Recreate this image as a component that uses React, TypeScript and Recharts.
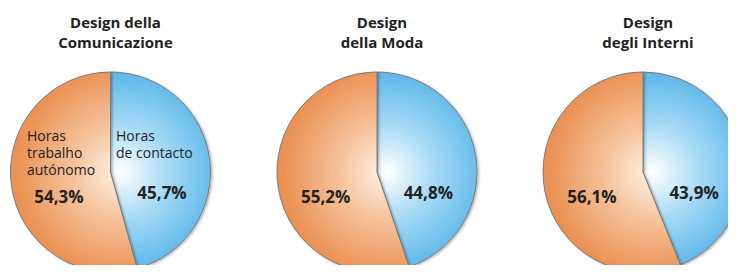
import { Cell, Pie, PieChart } from "recharts";

const courseTitles = [
  ["Design della", "Comunicazione"],
  ["Design", "della Moda"],
  ["Design", "degli Interni"],
];
const contactHours = [45.7, 44.8, 43.9];
const autonomousHours = [54.3, 55.2, 56.1];
const seriesNames = [["Horas", "de contacto"], ["Horas", "trabalho", "autónomo"]];

const WIDTH = 736;
const HEIGHT = 273;
const CENTERS = [110.5, 377, 643];
const CY = 172;
const RADIUS = 100;
const FONT = "'Open Sans', 'DejaVu Sans', sans-serif";

function formatPct(value: number) {
  return value.toFixed(1).replace(".", ",") + "%";
}

function makeLabel(pieIndex: number) {
  return (props: any) => {
    const { cx, cy, midAngle, outerRadius, index, value } = props;
    const rad = (-midAngle * Math.PI) / 180;
    const x = cx + outerRadius * 0.52 * Math.cos(rad);
    const y = cy + (index === 0 ? 20 : 24);
    const names = pieIndex === 0 ? seriesNames[index] : [];
    const nameX = index === 0 ? cx + 5.5 : cx - 83.5;
    const firstNameY = index === 0 ? cy - 37 : cy - 37;
    return (
      <g>
        {names.length > 0 && (
          <text x={nameX} y={firstNameY} dominantBaseline="central" fontFamily={FONT} fontSize={14} fill="#222">
            {names.map((line, i) => (
              <tspan key={line} x={nameX} dy={i === 0 ? 0 : 17}>
                {line}
              </tspan>
            ))}
          </text>
        )}
        <text
          x={x}
          y={y}
          textAnchor="middle"
          dominantBaseline="central"
          fontFamily={FONT}
          fontSize={17}
          fontWeight="bold"
          fill="#222"
        >
          {formatPct(value)}
        </text>
      </g>
    );
  };
}

export default function App() {
  return (
    <div style={{ position: "relative", width: WIDTH, height: HEIGHT, margin: -8, background: "#fff" }}>
      <PieChart width={WIDTH} height={HEIGHT} margin={{ top: 0, right: 0, bottom: 0, left: 0 }}>
        <defs>
          <filter id="pieShadow" x="-10%" y="-10%" width="120%" height="120%">
            <feDropShadow dx="1.5" dy="1" stdDeviation="0.8" floodColor="#000" floodOpacity="0.3" />
          </filter>
          {CENTERS.map((cx, i) => (
            <radialGradient key={"b" + i} id={"blue" + i} gradientUnits="userSpaceOnUse" cx={cx + 10} cy={CY} r={RADIUS + 5}>
              <stop offset="0" stopColor="#ffffff" />
              <stop offset="0.45" stopColor="#a6daf5" />
              <stop offset="1" stopColor="#56b4e9" />
            </radialGradient>
          ))}
          {CENTERS.map((cx, i) => (
            <radialGradient key={"o" + i} id={"orange" + i} gradientUnits="userSpaceOnUse" cx={cx + 10} cy={CY} r={RADIUS + 5}>
              <stop offset="0" stopColor="#fff3e6" />
              <stop offset="0.45" stopColor="#f5c39c" />
              <stop offset="1" stopColor="#ea9153" />
            </radialGradient>
          ))}
        </defs>
        {CENTERS.map((cx, i) => (
          <Pie
            key={i}
            data={[
              { name: seriesNames[0].join(" "), value: contactHours[i] },
              { name: seriesNames[1].join(" "), value: autonomousHours[i] },
            ]}
            dataKey="value"
            cx={cx}
            cy={CY}
            outerRadius={RADIUS}
            startAngle={90}
            endAngle={-270}
            stroke="#7a7a7a"
            strokeWidth={1}
            labelLine={false}
            label={makeLabel(i)}
            isAnimationActive={false}
          >
            <Cell fill={`url(#blue${i})`} filter="url(#pieShadow)" />
            <Cell fill={`url(#orange${i})`} filter="url(#pieShadow)" />
          </Pie>
        ))}
      </PieChart>
      {courseTitles.map((lines, i) => (
        <div
          key={i}
          style={{
            position: "absolute",
            left: CENTERS[i] + 5 - 100,
            width: 200,
            top: 12,
            textAlign: "center",
            fontFamily: FONT,
            fontWeight: "bold",
            fontSize: 15,
            lineHeight: "20px",
            color: "#222",
          }}
        >
          {lines.map((l) => (
            <div key={l}>{l}</div>
          ))}
        </div>
      ))}
    </div>
  );
}
